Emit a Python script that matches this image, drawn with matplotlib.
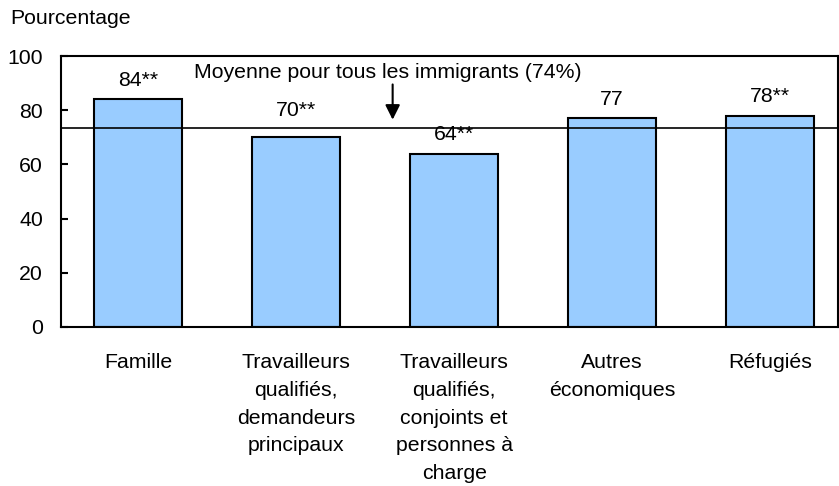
import matplotlib
matplotlib.use("Agg")
import matplotlib.pyplot as plt

plt.rcParams['font.family'] = ['Liberation Sans', 'DejaVu Sans']

categories = ["Famille",
              "Travailleurs\nqualifiés,\ndemandeurs\nprincipaux",
              "Travailleurs\nqualifiés,\nconjoints et\npersonnes à\ncharge",
              "Autres\néconomiques",
              "Réfugiés"]
values = [84, 70, 64, 77, 78]
labels = ["84**", "70**", "64**", "77", "78**"]
avg_line = 73.5
avg_text = "Moyenne pour tous les immigrants (74%)"
y_ticks = [0, 20, 40, 60, 80, 100]

FS = 15.3

fig = plt.figure(figsize=(8.39, 4.86), dpi=100)
ax = fig.add_axes([61 / 839, 1 - 327 / 486, 777 / 839, 271 / 486])

x = list(range(len(values)))
ax.bar(x, values, width=0.557, color='#99ccff', edgecolor='black', linewidth=1.5, zorder=2)
ax.axhline(avg_line, color='black', linewidth=1.2, zorder=3)

for xi, v, lab in zip(x, values, labels):
    if v < avg_line and v + 8 > avg_line:
        # push the label above the average line
        ax.text(xi, 78, lab, ha='center', va='baseline', fontsize=FS)
    else:
        ax.annotate(lab, (xi, v), xytext=(0, 9.5), textcoords='offset points',
                    ha='center', va='baseline', fontsize=FS)

ax.text(1.58, 93.8, avg_text, ha='center', va='center', fontsize=FS)
ax.annotate("", xy=(1.61, 76.5), xytext=(1.61, 89.5),
            arrowprops=dict(arrowstyle='-|>', color='black', lw=1.5,
                            mutation_scale=22, shrinkA=0, shrinkB=0))

ax.set_xlim(-0.49, 4.43)
ax.set_ylim(0, 100)
ax.set_yticks(y_ticks)
ax.set_xticks(x)
ax.set_xticklabels(categories, fontsize=FS, linespacing=1.58, va='top')
ax.tick_params(axis='y', direction='in', length=5, width=1.5, labelsize=FS, pad=13)
ax.tick_params(axis='x', length=0, pad=19)
for s in ax.spines.values():
    s.set_linewidth(1.5)

fig.text(10 / 839, 1 - 19 / 486, "Pourcentage", fontsize=FS, va='center', ha='left')

fig.savefig('out.png', dpi=100)
